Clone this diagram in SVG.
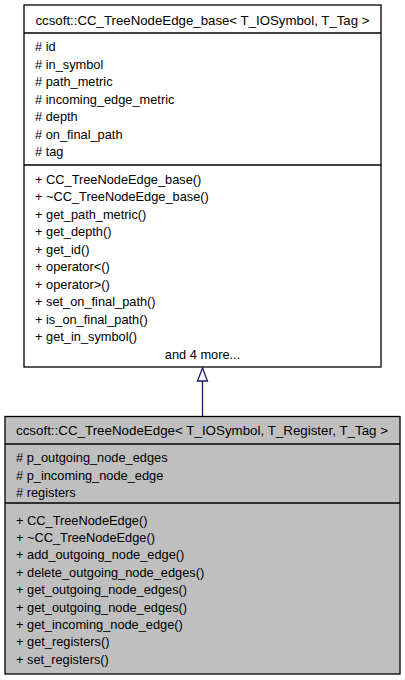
<svg xmlns="http://www.w3.org/2000/svg" width="405" height="680" viewBox="0 0 405 680">
<style>
text{font-family:"Liberation Sans",Arial,sans-serif;font-size:12.8px;fill:#000}
.c{text-anchor:middle}
.box{stroke:#000;stroke-width:1.3}
.sep{stroke:#000;stroke-width:1.3;fill:none}
.edge{stroke:#191970;stroke-width:1.3;fill:none}
</style>
<rect width="405" height="680" fill="#fff"/>
<g id="node-base">
<rect class="box" x="24" y="5" width="357" height="362" fill="#fff"/>
<line class="sep" x1="24" y1="33" x2="381" y2="33"/>
<line class="sep" x1="24" y1="165" x2="381" y2="165"/>
<text class="c" x="202.5" y="25" textLength="334" lengthAdjust="spacingAndGlyphs">ccsoft::CC_TreeNodeEdge_base&lt; T_IOSymbol, T_Tag &gt;</text>
<text x="35" y="51"># id</text>
<text x="35" y="68.5"># in_symbol</text>
<text x="35" y="86"># path_metric</text>
<text x="35" y="103.5"># incoming_edge_metric</text>
<text x="35" y="121"># depth</text>
<text x="35" y="138.5"># on_final_path</text>
<text x="35" y="156"># tag</text>
<text x="35" y="183.5">+ CC_TreeNodeEdge_base()</text>
<text x="35" y="201">+ ~CC_TreeNodeEdge_base()</text>
<text x="35" y="218.5">+ get_path_metric()</text>
<text x="35" y="236">+ get_depth()</text>
<text x="35" y="253.5">+ get_id()</text>
<text x="35" y="271">+ operator&lt;()</text>
<text x="35" y="288.5">+ operator&gt;()</text>
<text x="35" y="306">+ set_on_final_path()</text>
<text x="35" y="323.5">+ is_on_final_path()</text>
<text x="35" y="341">+ get_in_symbol()</text>
<text class="c" x="202.5" y="358.5">and 4 more...</text>
</g>
<g id="node-derived">
<rect class="box" x="5" y="416.5" width="395" height="257.5" fill="#bfbfbf" stroke="#404040"/>
<line class="sep" x1="5" y1="444" x2="400" y2="444"/>
<line class="sep" x1="5" y1="503" x2="400" y2="503"/>
<text class="c" x="202" y="434.5" textLength="372" lengthAdjust="spacingAndGlyphs">ccsoft::CC_TreeNodeEdge&lt; T_IOSymbol, T_Register, T_Tag &gt;</text>
<text x="16" y="462"># p_outgoing_node_edges</text>
<text x="16" y="479.5"># p_incoming_node_edge</text>
<text x="16" y="497"># registers</text>
<text x="16" y="524.5">+ CC_TreeNodeEdge()</text>
<text x="16" y="541.9">+ ~CC_TreeNodeEdge()</text>
<text x="16" y="559.3">+ add_outgoing_node_edge()</text>
<text x="16" y="576.7">+ delete_outgoing_node_edges()</text>
<text x="16" y="594.1">+ get_outgoing_node_edges()</text>
<text x="16" y="611.5">+ get_outgoing_node_edges()</text>
<text x="16" y="628.9">+ get_incoming_node_edge()</text>
<text x="16" y="646.3">+ get_registers()</text>
<text x="16" y="663.7">+ set_registers()</text>
</g>
<g id="connectors">
<line class="edge" x1="202.5" y1="381" x2="202.5" y2="416.5"/>
<polygon class="edge" points="202.5,368 197.5,381 207.5,381" fill="#fff"/>
</g>
</svg>
